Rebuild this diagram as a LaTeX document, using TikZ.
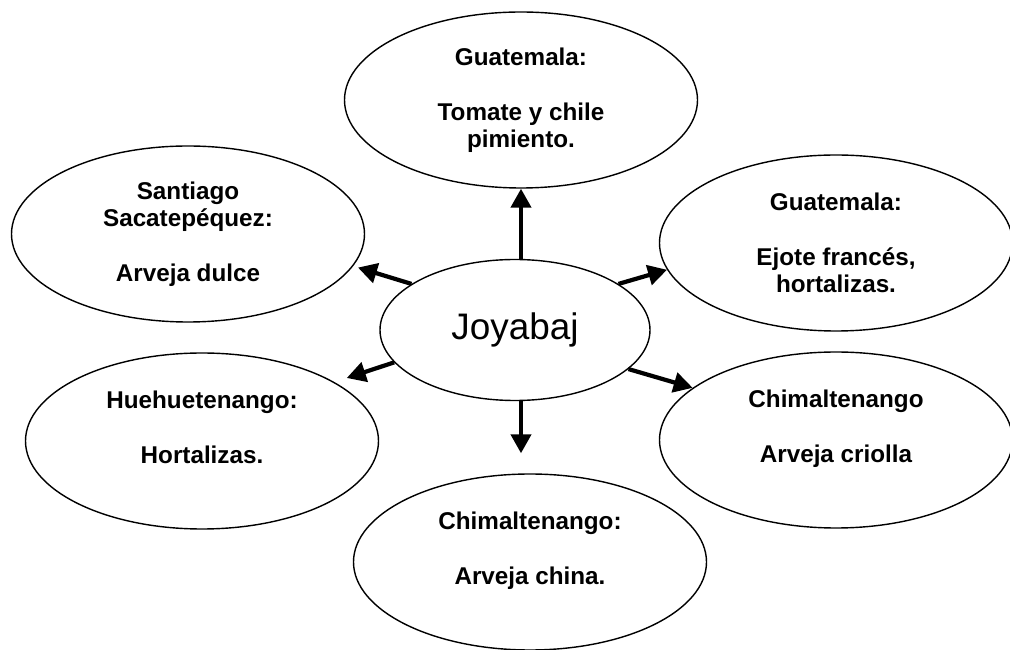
\documentclass[tikz,border=0pt]{standalone}
\usepackage{fontspec}
\setmainfont{Liberation Sans}
\usetikzlibrary{shapes.geometric, arrows.meta}

\tikzset{
	lugar/.style = {ellipse, draw, line width=0.8pt, inner sep=0pt,
		minimum width=7.06cm, minimum height=3.52cm, align=center,
		font=\fontsize{13.8}{15.65}\selectfont\bfseries},
	centro/.style = {ellipse, draw, line width=0.8pt, inner sep=0pt,
		minimum width=5.4cm, minimum height=2.82cm,
		font=\fontsize{21}{24}\selectfont},
	flecha/.style = {line width=2.4pt, -{Triangle[length=0.38cm, width=0.4cm]}}
}

\begin{document}
\begin{tikzpicture}
	\useasboundingbox (0,0) rectangle (20.2,-13);
	
	% nodo central
	\node [centro] (joyabaj) at (10.3,-6.6) {Joyabaj};
	
	% destinos
	\node [lugar] (guatA) at (10.42,-2.0) {Guatemala:\\ ~\\ Tomate y chile\\ pimiento.};
	\node [lugar] (santiago) at (3.76,-4.68) {Santiago\\ Sacatepéquez:\\ ~\\ Arveja dulce};
	\node [lugar] (guatB) at (16.72,-4.86) {Guatemala:\\ ~\\ Ejote francés,\\ hortalizas.};
	\node [lugar] (hueh) at (4.04,-8.82) {Huehuetenango:\\ ~\\ Hortalizas.\\ ~};
	\node [lugar] (chimA) at (16.72,-8.8) {Chimaltenango\\ ~\\ Arveja criolla\\ ~};
	\node [lugar] (chimB) at (10.6,-11.24) {Chimaltenango:\\ ~\\ Arveja china.\\ ~};
	
	% flechas
	\draw [flecha] (guatA |- joyabaj.north) -- (guatA.south);
	\draw [flecha, shorten >=0.1cm] (joyabaj.156) -- (santiago.-11);
	\draw [flecha] (joyabaj.24) -- (guatB.-171);
	\draw [flecha, shorten >=0.26cm] (joyabaj.-165) -- (hueh.24);
	\draw [flecha] (joyabaj.-19) -- (chimA.160);
	\draw [flecha, shorten >=0.4cm] (guatA |- joyabaj.south) -- (guatA |- chimB.north);
\end{tikzpicture}
\end{document}
